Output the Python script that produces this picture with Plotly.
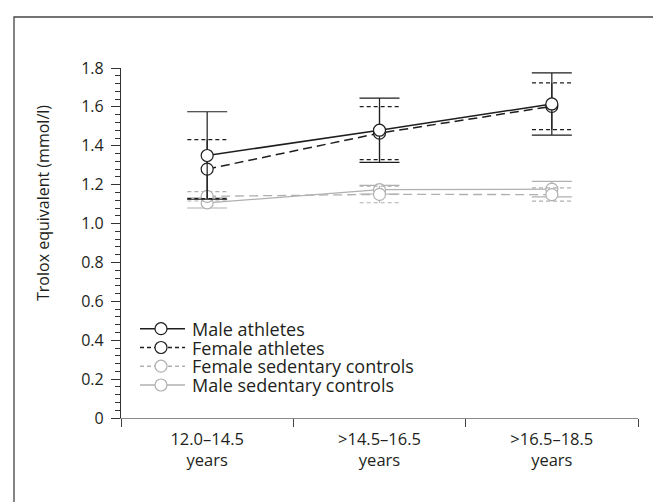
import plotly.graph_objects as go

# ---- data ----
categories = ["12.0–14.5<br>years", ">14.5–16.5<br>years", ">16.5–18.5<br>years"]
x_pos = [0.5, 1.5, 2.5]

male_ath_mean = [1.35, 1.48, 1.615]
male_ath_sd = [0.225, 0.165, 0.16]
female_ath_mean = [1.28, 1.465, 1.603]
female_ath_sd = [0.152, 0.136, 0.12]
female_sed_mean = [1.14, 1.15, 1.149]
female_sed_sd = [0.024, 0.043, 0.034]
male_sed_mean = [1.106, 1.174, 1.177]
male_sed_sd = [0.026, 0.022, 0.04]

y_tickvals = [0, 0.2, 0.4, 0.6, 0.8, 1.0, 1.2, 1.4, 1.6, 1.8]
y_ticktext = ["0", "0.2", "0.4", "0.6", "0.8", "1.0", "1.2", "1.4", "1.6", "1.8"]

legend_names = ["Male athletes", "Female athletes", "Female sedentary controls", "Male sedentary controls"]

DARK = "#1e1e1e"
GREY = "#b0b0b0"
FONT = "Open Sans"
TXT = "#231f20"
CAP = 0.115  # half width of caps in category units

# plot area geometry (px)
L, R, T, B, W, H = 113, 31, 60, 92, 661, 502
PW, PH = W - L - R, H - T - B


def px_x(px):
    return (px - L) / PW


def px_y(py):
    return (H - B - py) / PH


def dashed_caps(means, sds, color):
    xs, ys = [], []
    for x, m, s in zip(x_pos, means, sds):
        for v in (m + s, m - s):
            xs += [x - CAP, x + CAP, None]
            ys += [v, v, None]
    return go.Scatter(x=xs, y=ys, mode="lines", showlegend=False, hoverinfo="skip",
                      line=dict(color=color, width=1.2, dash="4px,3px"))


fig = go.Figure()

# Male sedentary (solid grey)
fig.add_trace(go.Scatter(
    x=x_pos, y=male_sed_mean, name=legend_names[3], mode="lines+markers",
    line=dict(color=GREY, width=1.3),
    marker=dict(symbol="circle", size=12, color="white", line=dict(color=GREY, width=1.2)),
    error_y=dict(type="data", array=male_sed_sd, visible=True, width=20, thickness=1.2, color=GREY),
))
# Female sedentary (dashed grey)
fig.add_trace(dashed_caps(female_sed_mean, female_sed_sd, GREY))
fig.add_trace(go.Scatter(
    x=x_pos, y=female_sed_mean, name=legend_names[2], mode="lines+markers",
    line=dict(color=GREY, width=1.3, dash="9px,5px"),
    marker=dict(symbol="circle", size=12, color="white", line=dict(color=GREY, width=1.2)),
    error_y=dict(type="data", array=female_sed_sd, visible=True, width=0, thickness=1.2, color=GREY),
))
# Female athletes (dashed dark)
fig.add_trace(dashed_caps(female_ath_mean, female_ath_sd, DARK))
fig.add_trace(go.Scatter(
    x=x_pos, y=female_ath_mean, name=legend_names[1], mode="lines+markers",
    line=dict(color=DARK, width=1.5, dash="9px,5px"),
    marker=dict(symbol="circle", size=12, color="white", line=dict(color=DARK, width=1.2)),
    error_y=dict(type="data", array=female_ath_sd, visible=True, width=0, thickness=1.2, color=DARK),
))
# Male athletes (solid dark)
fig.add_trace(go.Scatter(
    x=x_pos, y=male_ath_mean, name=legend_names[0], mode="lines+markers",
    line=dict(color=DARK, width=1.5),
    marker=dict(symbol="circle", size=12, color="white", line=dict(color=DARK, width=1.2)),
    error_y=dict(type="data", array=male_ath_sd, visible=True, width=20, thickness=1.2, color=DARK),
))

# ---- custom legend (tight row spacing) ----
leg_styles = [(DARK, None), (DARK, "4px,3px"), (GREY, "4px,3px"), (GREY, None)]
row_y = [320.7, 339.5, 358.2, 377]
shapes = [dict(type="rect", xref="paper", yref="paper",
               x0=px_x(6), x1=px_x(700), y0=px_y(540), y1=px_y(9),
               line=dict(color="#444", width=1.3), fillcolor="rgba(0,0,0,0)", layer="below")]
annotations = []
for (col, dash), ry, name in zip(leg_styles, row_y, legend_names):
    ln = dict(color=col, width=1.4)
    if dash:
        ln["dash"] = dash
    shapes.append(dict(type="line", xref="paper", yref="paper", x0=px_x(132), x1=px_x(177),
                       y0=px_y(ry), y1=px_y(ry), line=ln))
for (col, dash), ry in zip(leg_styles, row_y):
    shapes.append(dict(type="circle", xref="paper", yref="paper", xsizemode="pixel", ysizemode="pixel",
                       xanchor=px_x(153), yanchor=px_y(ry), x0=-6, x1=6, y0=-6, y1=6,
                       fillcolor="white", line=dict(color=col, width=1.2)))
for ry, name in zip(row_y, legend_names):
    annotations.append(dict(xref="paper", yref="paper", x=px_x(182), y=px_y(ry), text=name,
                            showarrow=False, xanchor="left", yanchor="middle",
                            font=dict(family=FONT, size=18, color=TXT)))
# y title
annotations.append(dict(xref="paper", yref="paper", x=px_x(35), y=px_y(195),
                        text="Trolox equivalent (mmol/l)", textangle=-90, showarrow=False,
                        xanchor="center", yanchor="middle", font=dict(family=FONT, size=16, color=TXT)))

fig.update_layout(
    width=W, height=H, autosize=False,
    margin=dict(l=L, r=R, t=T, b=B),
    paper_bgcolor="white", plot_bgcolor="white",
    font=dict(family=FONT, size=16, color=TXT),
    showlegend=False,
    xaxis=dict(range=[0, 3], tickvals=x_pos, ticktext=categories, ticks="", showgrid=False,
               zeroline=False, showline=True, linecolor="#8a8a8a", linewidth=1.3,
               ticklabelstandoff=6,
               tickfont=dict(family=FONT, size=16.5, color=TXT), fixedrange=True,
               minor=dict(tickvals=[0, 1, 2, 3], ticks="outside", ticklen=8, tickcolor="#444", tickwidth=1.2)),
    yaxis=dict(range=[0, 1.8], tickvals=y_tickvals, ticktext=y_ticktext, ticks="outside",
               ticklen=9, tickwidth=1.2, tickcolor="#333", showgrid=False, zeroline=False,
               showline=True, linecolor="#333", linewidth=1.2, ticklabelstandoff=4,
               tickfont=dict(family=FONT, size=16, color=TXT),
               minor=dict(dtick=0.04, ticks="outside", ticklen=5, tickcolor="#333", tickwidth=1.2,
                          showgrid=False)),
    shapes=shapes,
    annotations=annotations,
)

fig.write_html("out.html")
